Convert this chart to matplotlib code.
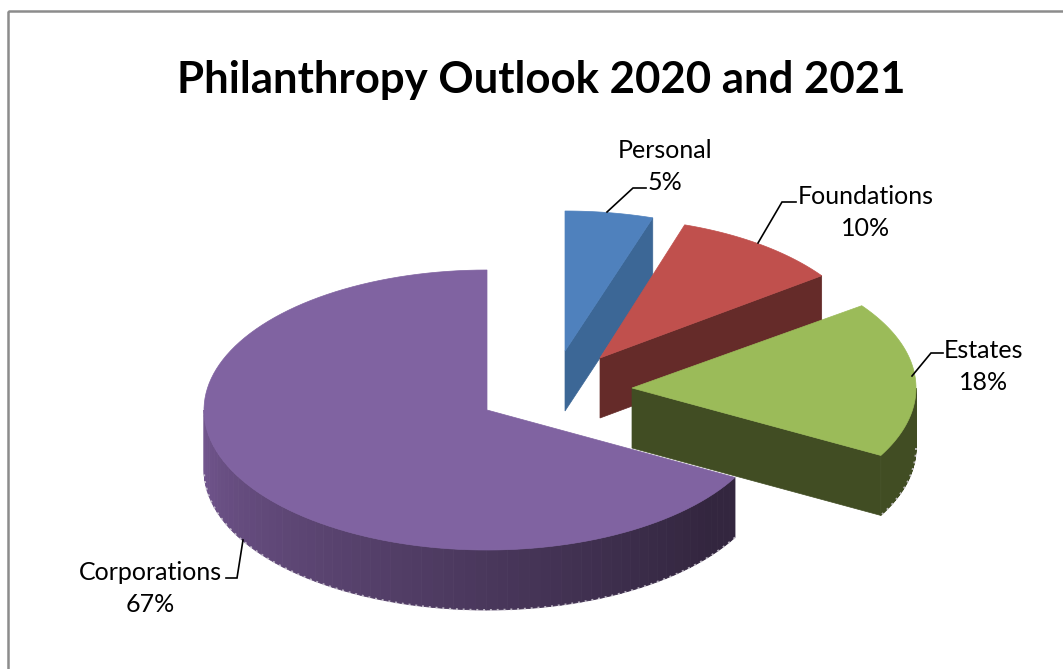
import matplotlib
matplotlib.use('Agg')
import matplotlib.pyplot as plt
from matplotlib.patches import Polygon, Rectangle
import numpy as np

plt.rcParams['font.family'] = ['Lato', 'DejaVu Sans']

labels = ['Personal', 'Foundations', 'Estates', 'Corporations']
values = [5, 10, 18, 67]

top_colors = ['#4f81bd', '#c0504d', '#9bbb59', '#8063a1']
face_colors = ['#3c6796', '#652b29', '#414d23', '#33263f']
rim_left = ['#3c6796', '#652b29', '#414d23', '#72568f']
rim_right = ['#3c6796', '#652b29', '#414d23', '#33263f']

# pixel layout, y grows downwards
apex_x = [565, 600, 632, 487]
apex_y = [351, 358, 388, 410]
radius_x = [284, 274, 284, 283]
radius_y = 140
depth = 60


def rim_xy(i, t):
    return (apex_x[i] + radius_x[i] * np.sin(t),
            apex_y[i] - radius_y * np.cos(t))


def blend(c1, c2, f):
    a = np.array(matplotlib.colors.to_rgb(c1))
    b = np.array(matplotlib.colors.to_rgb(c2))
    return tuple(a + (b - a) * f)


fig = plt.figure(figsize=(10.63, 6.69), dpi=100)
ax = fig.add_axes([0, 0, 1, 1])
ax.set_xlim(0, 1063)
ax.set_ylim(669, 0)
ax.axis('off')

# chart frame, runs off the right and bottom
ax.add_patch(Rectangle((7.5, 10.5), 1200, 800, fill=False, ec='#8c8c8c', lw=1.8))

edges = np.cumsum([0] + values) / sum(values) * 2 * np.pi

for i in range(len(values)):
    t0, t1 = edges[i], edges[i + 1]

    # cut face at the clockwise end of the slice
    if t1 < np.pi:
        ex, ey = rim_xy(i, t1)
        ax.add_patch(Polygon([(apex_x[i], apex_y[i]), (ex, ey), (ex, ey + depth),
                              (apex_x[i], apex_y[i] + depth)],
                             fc=face_colors[i], ec=face_colors[i], lw=0.5))

    # outer wall, only the front half shows
    lo, hi = max(t0, np.pi / 2), min(t1, 3 * np.pi / 2)
    if hi > lo:
        steps = np.linspace(lo, hi, 70)
        for a, b in zip(steps[:-1], steps[1:]):
            xa, ya = rim_xy(i, a)
            xb, yb = rim_xy(i, b)
            f = ((a + b) / 2 - np.pi / 2) / np.pi
            # wall stays dark on the right then lightens towards the left
            c = blend(rim_right[i], rim_left[i], np.clip((f - 0.22) / 0.78, 0, 1))
            ax.add_patch(Polygon([(xa, ya), (xb, yb), (xb, yb + depth), (xa, ya + depth)],
                                 fc=c, ec=c, lw=0.6))
        # ragged pale fringe on the lower edge
        ts = np.linspace(lo, hi, 200)
        fx, fy = rim_xy(i, ts)
        ax.plot(fx, fy + depth, color='#d9d4de', lw=1.4, ls=(0, (1, 2.5)), alpha=0.8)

    # top surface
    ts = np.linspace(t0, t1, 120)
    rx, ry = rim_xy(i, ts)
    pts = [(apex_x[i], apex_y[i])] + list(zip(rx, ry))
    ax.add_patch(Polygon(pts, fc=top_colors[i], ec=top_colors[i], lw=0.5))

# leader lines
leaders = [
    [(607, 212), (633, 188), (646, 188)],
    [(758, 243), (782, 202), (796, 202)],
    [(912, 376), (931, 353), (943, 353)],
    [(243, 540), (237, 578), (226, 578)],
]
for line in leaders:
    xs, ys = zip(*line)
    ax.plot(xs, ys, color='black', lw=1.2, solid_joinstyle='miter')

# category and percentage labels
label_pos = [(665, 151), (866, 197), (984, 350), (150, 573)]
value_pos = [(665, 182), (866, 229), (984, 382), (150, 605)]
for name, v, p, q in zip(labels, values, label_pos, value_pos):
    ax.text(p[0], p[1], name, ha='center', va='center', fontsize=18, color='black')
    ax.text(q[0], q[1], f'{v}%', ha='center', va='center', fontsize=18, color='black')

ax.text(541, 80, 'Philanthropy Outlook 2020 and 2021', ha='center', va='center',
        fontsize=31.5, fontweight='bold', color='black')

fig.savefig('out.png', dpi=100)
